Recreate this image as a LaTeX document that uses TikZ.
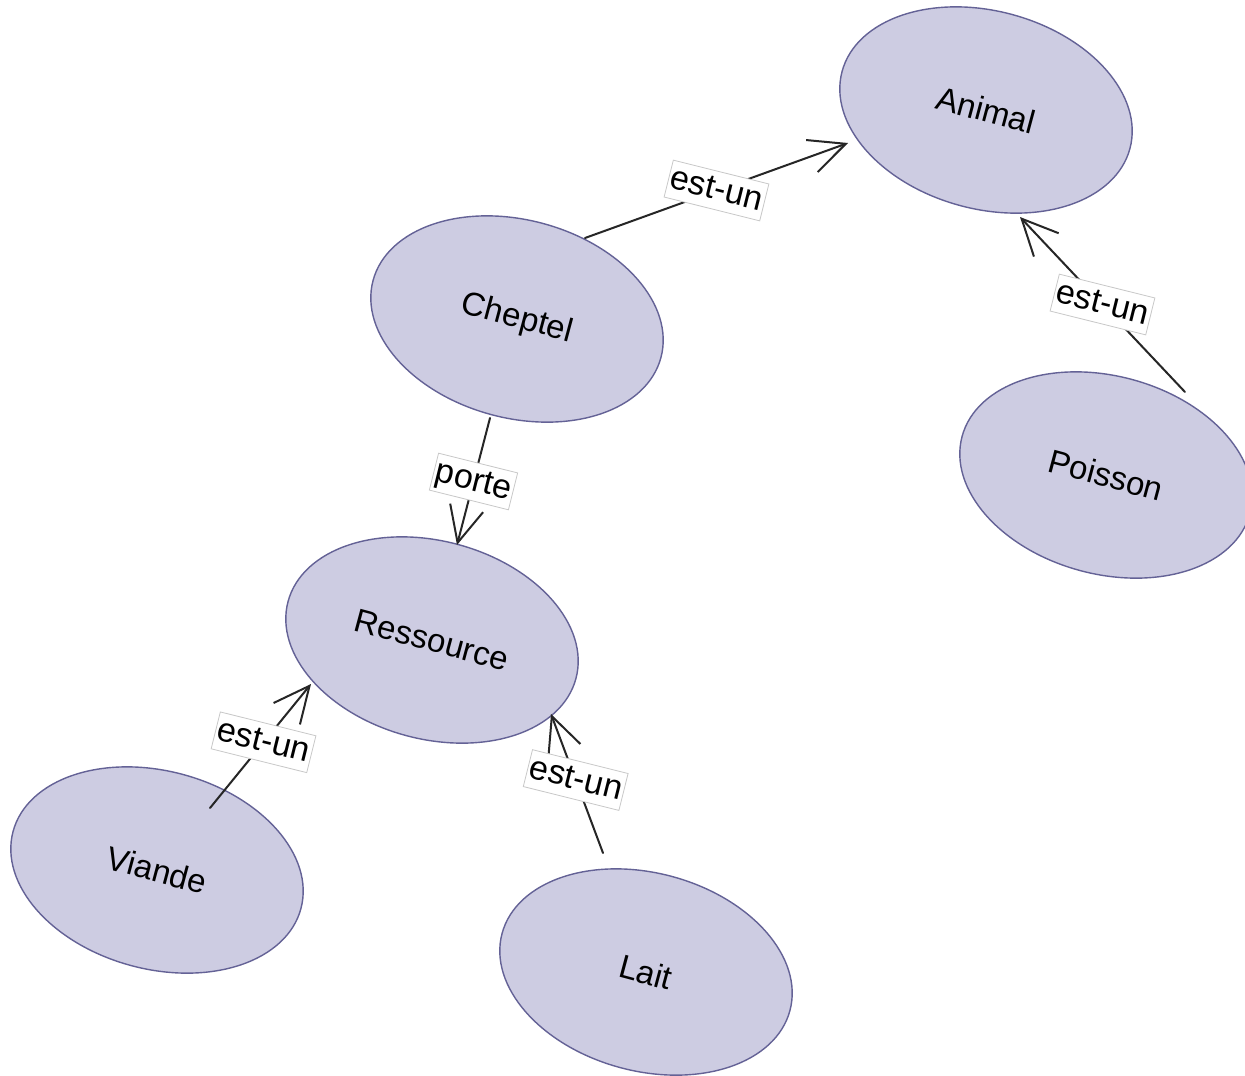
\documentclass[tikz,border=0pt]{standalone}
\usepackage{fontspec}
\setmainfont{Liberation Sans}
\usetikzlibrary{shapes.geometric,arrows.meta,calc}
\definecolor{conceptfill}{RGB}{205,204,226}
\definecolor{conceptline}{RGB}{100,98,150}
\definecolor{tagline}{RGB}{200,200,200}
\begin{document}
\begin{tikzpicture}[x=1pt,y=-1pt,
  concept/.style={ellipse, draw=conceptline, line width=1.4pt, fill=conceptfill,
    minimum width=298pt, minimum height=198pt, inner sep=0pt, rotate=-15,
    font=\fontsize{33}{40}\selectfont},
  rel/.style={draw=black!85, line width=2pt, line cap=round,
    -{Straight Barb[length=36pt,width=34pt]}},
  tag/.style={fill=white, draw=tagline, line width=0.8pt, rotate=-14, midway,
    font=\fontsize{34}{40}\selectfont, inner xsep=2pt, inner ysep=3pt,
    text height=25pt, text depth=7pt}]
\useasboundingbox (0,0) rectangle (1245,1076);
\fill[white] (0,0) rectangle (1245,1076);

% concepts
\node[concept] (animal)    at (986,110)  {Animal};
\node[concept] (cheptel)   at (517,319)  {Cheptel};
\node[concept] (poisson)   at (1106,475) {Poisson};
\node[concept] (ressource) at (432,640)  {Ressource};
\node[concept] (viande)    at (157,870)  {Viande};
\node[concept] (lait)      at (646,972)  {Lait};

% relations
\draw[rel] ($(cheptel.center)+(68,-81)$) -- node[tag] (t1) {est-un} ($(animal.center)+(-138,33)$);
\draw[rel] ($(poisson.center)+(79,-83)$) -- node[tag] (t2) {est-un} ($(animal.center)+(34,107)$);
\draw[rel] ($(cheptel.center)+(-27,99)$) -- node[tag] (t3) {porte} ($(ressource.center)+(25,-95)$);
\draw[rel] ($(viande.center)+(53,-62)$) -- node[tag,pos=0.53] (t4) {est-un} ($(ressource.center)+(-121,44)$);
\draw[rel] ($(lait.center)+(-43,-119)$) -- node[tag,pos=0.525] (t5) {est-un} ($(ressource.center)+(119,74)$);
\end{tikzpicture}
\end{document}
